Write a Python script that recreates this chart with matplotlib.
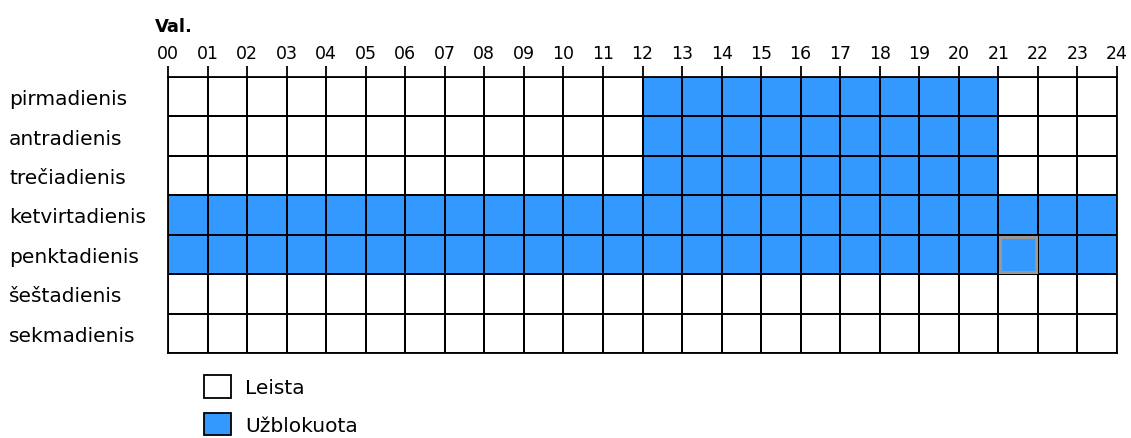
import matplotlib.pyplot as plt
import numpy as np
from matplotlib.patches import Patch, Rectangle
from matplotlib.colors import ListedColormap

# data
days = ['pirmadienis', 'antradienis', 'trečiadienis', 'ketvirtadienis',
        'penktadienis', 'šeštadienis', 'sekmadienis']
hours = ['%02d' % h for h in range(25)]
# blocked hour ranges per day (start, end)
blocked = [(12, 21), (12, 21), (12, 21), (0, 24), (0, 24), None, None]
selected_day = 4
selected_hour = 21

blue = '#3399ff'

grid = np.zeros((len(days), 24))
for i, rng in enumerate(blocked):
    if rng is not None:
        grid[i, rng[0]:rng[1]] = 1

plt.rcParams['font.family'] = ['DejaVu Sans']

W, H = 1131, 439
fig = plt.figure(figsize=(W / 100, H / 100), dpi=100)
x0, x1, y0, y1 = 168, 1117, 78, 354
ax = fig.add_axes([x0 / W, 1 - y1 / H, (x1 - x0) / W, (y1 - y0) / H])

ax.pcolormesh(np.arange(25), np.arange(len(days) + 1), grid,
              cmap=ListedColormap(['white', blue]), vmin=0, vmax=1,
              edgecolors='black', linewidth=1.3)
ax.add_patch(Rectangle((selected_hour + 0.04, selected_day + 0.05), 0.92, 0.9,
                       facecolor='none', edgecolor='#999999', linewidth=2.2))

ax.set_xlim(0, 24)
ax.set_ylim(len(days), 0)
ax.xaxis.tick_top()
ax.set_xticks(np.arange(25))
ax.set_xticklabels(hours, fontsize=12.5)
ax.tick_params(axis='x', length=8, width=1.3, pad=3)
ax.set_yticks(np.arange(len(days)) + 0.5)
ax.set_yticklabels(days, fontsize=14.5)
ax.tick_params(axis='y', length=0, pad=0)
for label in ax.get_yticklabels():
    label.set_horizontalalignment('left')
    label.set_x((9 - x0) / (x1 - x0))
for s in ax.spines.values():
    s.set_linewidth(1.3)

fig.text(155 / W, 1 - 27 / H, 'Val.', fontsize=13, fontweight='bold', va='center')

handles = [Patch(facecolor='white', edgecolor='black', linewidth=1.3, label='Leista'),
           Patch(facecolor=blue, edgecolor='black', linewidth=1.3, label='Užblokuota')]
fig.legend(handles=handles, loc='upper left', bbox_to_anchor=(204 / W, 1 - 376 / H),
           frameon=False, fontsize=14.5, handlelength=1.35, handleheight=1.35,
           labelspacing=0.75, handletextpad=0.7, borderaxespad=0,
           borderpad=0)

fig.savefig('out.png', dpi=100)
